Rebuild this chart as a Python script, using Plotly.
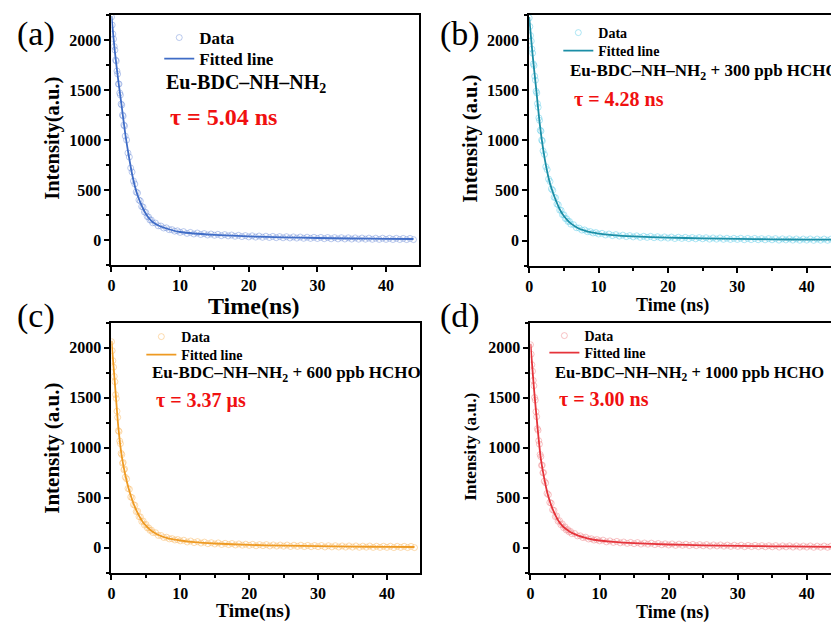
import plotly.graph_objects as go

# ---------------- data ----------------
t_data = [0.0, 0.1, 0.2, 0.3, 0.4, 0.5, 0.6, 0.7, 0.8, 0.9, 1.0, 1.1, 1.2, 1.3, 1.4, 1.5, 1.6, 1.7, 1.8, 1.9, 2.0,
          2.2, 2.4, 2.6, 2.8, 3.0, 3.2, 3.4, 3.6, 3.8, 4.0, 4.2, 4.4, 4.6, 4.8, 5.0, 5.2, 5.4, 5.6, 5.8, 6.0,
          6.4, 6.8, 7.2, 7.6, 8.0, 8.4, 8.8, 9.2, 9.6, 10.0,
          10.5, 11.0, 11.5, 12.0, 12.5, 13.0, 13.5, 14.0, 14.5, 15.0,
          15.5, 16.0, 16.5, 17.0, 17.5, 18.0, 18.5, 19.0, 19.5, 20.0,
          20.5, 21.0, 21.5, 22.0, 22.5, 23.0, 23.5, 24.0, 24.5, 25.0,
          25.5, 26.0, 26.5, 27.0, 27.5, 28.0, 28.5, 29.0, 29.5, 30.0,
          30.5, 31.0, 31.5, 32.0, 32.5, 33.0, 33.5, 34.0, 34.5, 35.0,
          35.5, 36.0, 36.5, 37.0, 37.5, 38.0, 38.5, 39.0, 39.5, 40.0,
          40.5, 41.0, 41.5, 42.0, 42.5, 43.0, 43.5, 44.0]

data_a = [2230, 2150, 2060, 2010, 1935, 1900, 1800, 1790, 1690, 1660, 1560, 1560, 1470, 1450, 1360, 1350, 1250, 1240, 1150, 1140, 1040,
          1000, 870, 830, 720, 680, 590, 560, 480, 470, 400, 390, 335, 330, 280, 275, 235, 230, 200, 200, 172,
          170, 142, 140, 120, 122, 103, 104, 88, 92, 76,
          84, 66, 76, 60, 70, 55, 64, 50, 60, 47,
          57, 43, 54, 41, 50, 37, 47, 34, 44, 31,
          42, 29, 40, 27, 38, 25, 36, 23, 34, 22,
          33, 20, 31, 19, 30, 17, 28, 16, 27, 15,
          26, 13, 25, 12, 24, 11, 23, 10, 22, 9,
          21, 8, 20, 8, 19, 7, 18, 6, 18, 6,
          17, 5, 17, 5, 16, 4, 16, 4]

data_b = [2220, 2135, 2045, 1990, 1910, 1870, 1762, 1746, 1640, 1600, 1490, 1472, 1366, 1330, 1224, 1200, 1101, 1092, 1003, 994, 895,
          860, 737, 708, 614, 590, 516, 502, 432, 428, 365, 357, 304, 303, 258, 258, 221, 219, 191, 192, 164,
          159, 129, 125, 105, 107, 89, 91, 76, 81, 66,
          73, 56, 66, 50, 60, 45, 55, 40, 50, 37,
          48, 33, 44, 32, 43, 29, 39, 26, 37, 25,
          36, 21, 34, 22, 33, 20, 31, 18, 30, 18,
          29, 15, 27, 15, 27, 13, 24, 12, 23, 12,
          24, 9, 22, 10, 22, 9, 20, 8, 20, 8,
          20, 5, 18, 7, 18, 5, 17, 4, 16, 5,
          17, 3, 16, 4, 16, 3, 15, 3]

data_c = [2060, 1970, 1870, 1805, 1713, 1660, 1530, 1492, 1365, 1303, 1170, 1162, 1066, 1040, 944, 930, 845, 852, 779, 787, 705,
          688, 592, 585, 507, 500, 431, 424, 361, 365, 310, 308, 262, 267, 227, 233, 198, 199, 173, 176, 152,
          150, 123, 122, 102, 105, 88, 91, 77, 82, 68,
          75, 57, 67, 51, 61, 46, 56, 40, 50, 37,
          48, 32, 44, 31, 42, 27, 38, 25, 35, 23,
          34, 19, 31, 20, 31, 17, 28, 16, 27, 15,
          27, 12, 25, 13, 25, 11, 23, 10, 22, 10,
          22, 7, 20, 8, 20, 7, 18, 6, 18, 6,
          18, 4, 16, 5, 17, 3, 15, 3, 15, 3,
          15, 1, 14, 3, 14, 1, 13, 1]

data_d = [2030, 1935, 1830, 1765, 1673, 1620, 1502, 1476, 1360, 1310, 1190, 1174, 1070, 1036, 932, 910, 823, 826, 749, 752, 665,
          648, 543, 530, 452, 445, 379, 373, 311, 317, 265, 270, 230, 238, 200, 208, 177, 181, 158, 163, 140,
          142, 118, 119, 101, 105, 87, 90, 76, 82, 68,
          76, 58, 68, 53, 63, 48, 57, 43, 53, 40,
          51, 36, 47, 35, 46, 31, 42, 29, 39, 27,
          38, 23, 36, 24, 35, 21, 33, 20, 31, 19,
          31, 16, 28, 17, 28, 15, 26, 13, 25, 13,
          25, 10, 23, 11, 23, 10, 21, 9, 20, 9,
          21, 6, 19, 8, 19, 6, 18, 6, 17, 6,
          18, 4, 16, 5, 17, 4, 15, 3]

t_fit = [0, 0.5, 1.0, 1.5, 2.0, 2.5, 3.0, 3.5, 4.0, 4.5, 5.0, 5.5, 6.0, 7.0, 8.0, 9.0, 10, 12, 15, 20, 25, 30, 35, 40, 44]
fit_a = [2240, 1880, 1590, 1330, 1065, 850, 660, 515, 410, 330, 262, 215, 180, 140, 115, 95, 80, 65, 52, 36, 27, 20, 15, 12, 10]
fit_b = [2230, 1850, 1520, 1180, 920, 720, 570, 465, 375, 300, 245, 205, 172, 126, 100, 82, 70, 55, 42, 30, 23, 17, 13, 10, 9]
fit_c = [2070, 1640, 1200, 910, 730, 590, 480, 390, 320, 262, 220, 186, 160, 122, 98, 83, 72, 56, 42, 28, 20, 15, 11, 8, 7]
fit_d = [2040, 1600, 1220, 890, 690, 535, 425, 340, 275, 228, 195, 170, 148, 118, 98, 82, 72, 58, 45, 32, 24, 18, 14, 11, 9]

panel_labels = ["(a)", "(b)", "(c)", "(d)"]
sample_labels = ["Eu-BDC–NH–NH<sub>2</sub>",
                 "Eu-BDC–NH–NH<sub>2</sub> + 300 ppb HCHO",
                 "Eu-BDC–NH–NH<sub>2</sub> + 600 ppb HCHO",
                 "Eu-BDC–NH–NH<sub>2</sub> + 1000 ppb HCHO"]
tau_labels = ["τ = 5.04 ns", "τ = 4.28 ns", "τ = 3.37 μs", "τ = 3.00 ns"]
x_titles = ["Time(ns)", "Time (ns)", "Time(ns)", "Time (ns)"]
y_titles = ["Intensity(a.u.)", "Intensity (a.u.)", "Intensity (a.u.)", "Intensity (a.u.)"]

# ---------------- styling ----------------
W, H = 831, 623
FONT = "Liberation Serif"
line_colors = ["#3f6cc6", "#1b8ea6", "#ee9a22", "#e5333a"]
dot_colors = ["rgba(120,150,220,0.5)", "rgba(110,210,235,0.55)", "rgba(250,190,110,0.55)", "rgba(240,135,140,0.5)"]

def X(px):
    return px / W

def Y(py):
    return 1 - py / H

# plot areas in pixels: (left, right, top, bottom)
areas = [(108, 417, 15, 265), (527.7, 831, 15, 265.7), (108, 418, 322.7, 572.7), (529, 831, 322.7, 572.7)]
xmax = [44.8, 43.5, 44.8, 43.5]

fig = go.Figure()
datas = [data_a, data_b, data_c, data_d]
fits = [fit_a, fit_b, fit_c, fit_d]

def lname(k):
    return "legend" if k == 1 else f"legend{k}"

for i in range(4):
    xa = "x" if i == 0 else f"x{i+1}"
    ya = "y" if i == 0 else f"y{i+1}"
    fig.add_trace(go.Scatter(x=t_data, y=datas[i], mode="markers", name="Data",
                             marker=dict(symbol="circle-open", size=6, color=dot_colors[i], line=dict(width=1)),
                             xaxis=xa, yaxis=ya, legend=lname(2 * i + 1)))
    fig.add_trace(go.Scatter(x=t_fit, y=fits[i], mode="lines", name="Fitted line",
                             line=dict(color=line_colors[i], width=1.8, shape="spline", smoothing=0.6),
                             xaxis=xa, yaxis=ya, legend=lname(2 * i + 2)))

layout = dict(width=W, height=H, margin=dict(l=0, r=0, t=0, b=0),
              paper_bgcolor="white", plot_bgcolor="white", showlegend=True)

for i in range(4):
    l, r, t, b = areas[i]
    sx = "" if i == 0 else str(i + 1)
    right_panel = i in (1, 3)
    layout["xaxis" + sx] = dict(domain=[X(l), X(r)], range=[0, xmax[i]], anchor="y" + sx,
                                showline=True, linecolor="black", linewidth=2, mirror=True,
                                ticks="outside", ticklen=5, tickwidth=2, tickcolor="black",
                                dtick=10, tick0=0, showgrid=False, zeroline=False,
                                minor=dict(ticks="outside", ticklen=3, tickwidth=1.5, dtick=5, tickcolor="black"),
                                tickfont=dict(family=FONT, size=16, color="black", weight="bold"))
    layout["yaxis" + sx] = dict(domain=[Y(b), Y(t)], range=[-250, 2250], anchor="x" + sx,
                                showline=True, linecolor="black", linewidth=2, mirror=(not right_panel),
                                ticks="outside", ticklen=5, tickwidth=2, tickcolor="black",
                                dtick=500, tick0=0, showgrid=False, zeroline=False,
                                minor=dict(ticks="outside", ticklen=3, tickwidth=1.5, dtick=250, tickcolor="black"),
                                tickfont=dict(family=FONT, size=16, color="black", weight="bold"))

# one legend per entry: (left px, top px, font size)
legend_pos = [(156, 20, 17), (156, 41, 17),
              (557, 17, 14), (557, 35, 14),
              (138, 321, 14), (138, 339, 14),
              (543, 320, 14), (543, 337, 14)]
for k, (lx, ly, fs) in enumerate(legend_pos, start=1):
    layout[lname(k)] = dict(x=X(lx), y=Y(ly), xanchor="left", yanchor="top",
                            bgcolor="rgba(0,0,0,0)", borderwidth=0,
                            font=dict(family=FONT, size=fs, color="black", weight="bold"))

fig.update_layout(**layout)

ann = []
for lab, (px, py) in zip(panel_labels, [(32, 34), (458, 34), (32, 316), (458, 316)]):
    ann.append(dict(text=lab, x=X(px), y=Y(py), xanchor="center", yanchor="middle",
                    font=dict(family=FONT, size=34, color="black")))
for lab, (px, py, fs) in zip(sample_labels, [(161, 83, 20), (567, 72, 17), (147, 374, 17), (552, 373, 16.5)]):
    ann.append(dict(text=lab, x=X(px), y=Y(py), xanchor="left", yanchor="middle",
                    font=dict(family=FONT, size=fs, color="black", weight="bold")))
for lab, (px, py, fs) in zip(tau_labels, [(165, 117, 24), (571, 99, 20), (151, 400, 20), (556, 399, 20)]):
    ann.append(dict(text=lab, x=X(px), y=Y(py), xanchor="left", yanchor="middle",
                    font=dict(family=FONT, size=fs, color="#f01010", weight="bold")))
for lab, (px, py, fs) in zip(x_titles, [(251, 306, 24), (672, 305, 18), (250, 611, 19.5), (672, 612, 18)]):
    ann.append(dict(text=lab, x=X(px), y=Y(py), xanchor="center", yanchor="middle",
                    font=dict(family=FONT, size=fs, color="black", weight="bold")))
for lab, (px, py, fs) in zip(y_titles, [(48, 138, 20.5), (468, 139, 20.5), (48, 448, 21), (468, 447, 17.3)]):
    ann.append(dict(text=lab, x=X(px), y=Y(py), xanchor="center", yanchor="middle", textangle=-90,
                    font=dict(family=FONT, size=fs, color="black", weight="bold")))
for a in ann:
    a.update(xref="paper", yref="paper", showarrow=False)
fig.update_layout(annotations=ann)

fig.write_html("out.html")
